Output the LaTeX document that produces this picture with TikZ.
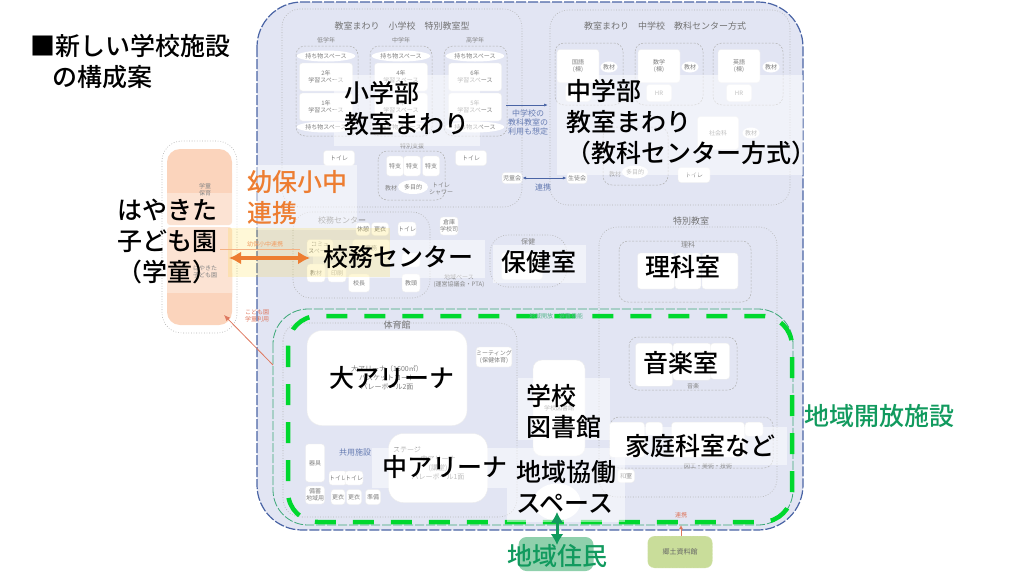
\documentclass[tikz,border=0pt]{standalone}
\usepackage{fontspec}
\setmainfont{Noto Sans CJK JP}
\newfontfamily\labelfont{Noto Sans CJK JP Medium}
\usetikzlibrary{arrows.meta,shapes.geometric}
\definecolor{schoolbg}{RGB}{226,229,243}
\definecolor{schoolln}{RGB}{74,100,165}
\definecolor{kidsbg}{RGB}{251,212,188}
\definecolor{orangetx}{RGB}{237,125,49}
\definecolor{greenln}{RGB}{0,216,46}
\definecolor{greentx}{RGB}{17,154,94}
\definecolor{juminbg}{RGB}{143,208,172}
\definecolor{kyodobg}{RGB}{201,221,154}
\definecolor{openln}{RGB}{60,168,119}
\definecolor{reddish}{RGB}{222,120,95}
\tikzset{
  room/.style={fill=white,draw=black!7,rounded corners=3pt,inner sep=0pt,font=\fontsize{6}{7}\selectfont,text=black!50,align=center},
  oval/.style={ellipse,fill=white,inner sep=0pt,font=\fontsize{6}{7}\selectfont,text=black!50,align=center},
  faint/.style={inner sep=0pt,font=\fontsize{6}{7}\selectfont,text=black!48,align=center},
  title/.style={inner sep=0pt,font=\fontsize{9}{11}\selectfont,text=black!55},
  bluetx/.style={inner sep=0pt,font=\fontsize{8}{9}\selectfont,text=schoolln!85,align=center},
  zone/.style={draw=black!30,dash pattern=on .8pt off 1.8pt,rounded corners=18pt,line width=.6pt},
  subzone/.style={draw=black!30,dash pattern=on 2pt off 1.5pt,rounded corners=9pt,line width=.5pt},
  panel/.style={fill=white,fill opacity=.5},
  biglabel/.style={inner sep=0pt,font=\labelfont\fontsize{25}{31}\selectfont,align=left},
}
\begin{document}
\begin{tikzpicture}[x=1pt,y=-1pt,line cap=butt]
  \useasboundingbox (0,0) rectangle (1020,571);

  % school ground
  \draw[fill=schoolbg,draw=schoolln,line width=1.2pt,dash pattern=on 10pt off 2pt,rounded corners=45pt] (257,2) rectangle (803,530);
  \foreach \xa/\ya/\xb/\yb in {282/9/522/207, 550/10/790/205, 293/212/430/298, 490/235/567/287, 599/227/777/497, 283/323/517/517}
    \draw[zone] (\xa,\ya) rectangle (\xb,\yb);
  \foreach \xa/\ya/\xb/\yb in {296/46/358/136, 370/46/432/136, 444/46/507/136, 378/151/445/200, 555/43/623/105, 635/43/703/105, 713/43/783/105, 603/127/668/185, 619/241/751/302, 629/337/737/390, 610/417/773/468}
    \draw[subzone] (\xa,\ya) rectangle (\xb,\yb);

  % elementary wing
  \node[title] (elemtitle) at (402,26) {教室まわり　小学校　特別教室型};
  \foreach \nm/\cx/\txt in {lowgr/326/低学年, midgr/401/中学年, highgr/475/高学年}
    \node[faint] (\nm) at (\cx,40) {\txt};
  \foreach \nm/\cx/\up/\dn in {lo/326/2年/1年, mi/401/4年/3年, hi/475/6年/5年} {
    \node[oval,minimum width=48,minimum height=11] (\nm mota) at (\cx,56) {持ち物スペース};
    \node[room,minimum width=53,minimum height=28] (\nm up) at (\cx,77) {\up\\学習スペース};
    \node[room,minimum width=53,minimum height=28] (\nm dn) at (\cx,107) {\dn\\学習スペース};
    \node[oval,minimum width=48,minimum height=11] (\nm motb) at (\cx,127) {持ち物スペース};
  }
  \foreach \nm/\cx/\cy/\w/\h/\txt in {
    wca/339/158/31/15/トイレ, wcb/471/158/31/15/トイレ,
    shia/395/166/17/20/特支, shib/412/166/17/20/特支, shic/431/166/17/20/特支,
    jidokai/512/178/20/11/児童会, seitokai/577/178/20/11/生徒会}
    \node[room,minimum width=\w,minimum height=\h] (\nm) at (\cx,\cy) {\txt};
  \node[faint] (shititle) at (412,146) {特別支援};
  \node[faint] (kyozaia) at (391,188) {教材};
  \node[oval,minimum width=30,minimum height=14] (tamokua) at (413,187) {多目的};
  \node[faint] (shower) at (441,189) {トイレ\\シャワー};

  % junior high wing
  \node[title] (jrtitle) at (665,26) {教室まわり　中学校　教科センター方式};
  \foreach \nm/\cx/\txt/\kx in {kok/578/国語/609, sug/659/数学/690, eig/739/英語/771} {
    \node[room,minimum width=42,minimum height=33] (\nm) at (\cx,66) {\txt\\(棟)};
    \node[room,minimum width=25,minimum height=17] (\nm hr) at (\cx,93) {HR};
    \node[oval,minimum width=17,minimum height=11] (\nm kz) at (\kx,67) {教材};
  }
  \node[room,minimum width=41,minimum height=33] (shakai) at (718,133) {社会科};
  \node[oval,minimum width=17,minimum height=11] (shakz) at (751,133) {教材};
  \node[faint] (kyozaib) at (615,174) {教材};
  \node[oval,minimum width=26,minimum height=13] (tamokub) at (635,172) {多目的};
  \node[room,minimum width=32,minimum height=15] (wcc) at (694,175) {トイレ};

  \coordinate (sharea) at (506,105);
  \coordinate (shareb) at (548,105);
  \draw[-{Latex[length=4pt,width=3pt]},schoolln,line width=.7pt] (sharea) -- (shareb);
  \node[bluetx] (sharetx) at (528,122) {中学校の\\教科教室の\\利用も想定};
  \draw[{Latex[length=4pt,width=3pt]}-{Latex[length=4pt,width=3pt]},schoolln,line width=.9pt] (jidokai) -- (seitokai);
  \node[bluetx] (renkeib) at (543,187) {連携};

  % kindergarten
  \draw[zone,rounded corners=20pt] (162,141) rectangle (237,333);
  \fill[kidsbg,rounded corners=13pt] (167,149) rectangle (232,200);
  \fill[kidsbg,rounded corners=3pt] (167,170) rectangle (232,225);
  \fill[kidsbg,rounded corners=3pt] (167,227) rectangle (232,300);
  \fill[kidsbg,rounded corners=13pt] (167,260) rectangle (232,325);
  \fill[white,fill opacity=.35] (167,193) rectangle (232,293);
  \node[faint] (gakudo) at (205,190) {学童\\保育};
  \node[faint] (kodomoen) at (205,272) {はやきた\\子ども園};

  % school office
  \node[title,font=\fontsize{8}{9}\selectfont] (komutitle) at (342,220) {校務センター};
  \foreach \nm/\cx/\cy/\w/\h/\txt in {
    kyuk/363/229/14/13/休憩, kois/380/229/17/13/更衣, wcd/407/229/15/14/トイレ,
    shoko/449/226/18/18/倉庫\\学校司, commu/320/248/26/17/コミュ\\スペース,
    jimu/371/248/37/17/事務, kyo/316/273/18/18/教材, ins/337/273/18/18/印刷,
    koch/359/283/21/18/校長, rma/411/260/18/14/{}, kyot/411/283/18/18/教頭}
    \node[room,minimum width=\w,minimum height=\h] (\nm) at (\cx,\cy) {\txt};
  \node[faint] (chiikib) at (459,281) {地域ベース\\(運営協議会・PTA)};

  % health, science
  \node[faint,font=\fontsize{7}{8}\selectfont] (hokentitle) at (528,242) {保健};
  \node[room,minimum width=41,minimum height=27] (hokenrm) at (522,266) {};
  \node[title] (tokutitle) at (691,221) {特別教室};
  \node[faint,font=\fontsize{7}{8}\selectfont] (rikatitle) at (688,245) {理科};
  \foreach \nm/\cx/\w in {rikaa/656/37, rikab/688/26, rikac/720/36}
    \node[room,minimum width=\w,minimum height=36] (\nm) at (\cx,271) {};

  % gymnasium
  \node[title] (gymtitle) at (397,325) {体育館};
  \node[room,rounded corners=15pt,minimum width=160,minimum height=95,font=\fontsize{7}{9}\selectfont] (bigarena) at (387,378) {大アリーナ（1600㎡）\\バスケットコート\\バレーボール2面};
  \node[room,rounded corners=15pt,minimum width=99,minimum height=69,font=\fontsize{7}{9}\selectfont] (midarena) at (438,468) {中アリーナ\\(講堂)\\バレーボール1面};
  \node[faint,font=\fontsize{7}{8}\selectfont] (stage) at (407,450) {ステージ};
  \node[room,minimum width=35,minimum height=20] (meeting) at (494,357) {ミーティング\\(保健体育)};
  \node[bluetx] (kyoyo) at (355,452) {共用施設};
  \foreach \nm/\cx/\cy/\w/\h/\txt in {
    kigu/315/463/19/38/器具, bichiku/315/495/19/18/備蓄\\地域用,
    wce/338/478/14/14/トイレ, wcf/354/478/15/14/トイレ,
    koia/338/497/14/15/更衣, koib/354/497/15/15/更衣, junbi/373/497/15/15/準備}
    \node[room,minimum width=\w,minimum height=\h] (\nm) at (\cx,\cy) {\txt};

  % music, home economics, library
  \foreach \nm/\cx/\w/\h in {onga/654/37/43, ongb/692/38/37, ongc/720/19/36}
    \node[room,minimum width=\w,minimum height=\h,anchor=north] (\nm) at (\cx,343) {};
  \node[faint] (ongtitle) at (693,386) {音楽};
  \node[room,rounded corners=9pt,minimum width=52,minimum height=96] (library) at (559,408) {学校図書館};
  \foreach \nm/\cx/\w/\h in {kagaa/627/35/35, kagab/654/17/13, kagac/708/73/35, kagad/754/18/14}
    \node[room,minimum width=\w,minimum height=\h,anchor=north] (\nm) at (\cx,422) {};
  \node[faint] (zukotitle) at (708,466) {図工・美術・技術};
  \node[room,minimum width=17,minimum height=13] (washitsu) at (626,476) {和室};
  \node[oval,minimum width=47,minimum height=37] (kyodosp) at (557,502) {};

  % open area
  \draw[openln,line width=.8pt,rounded corners=35pt,dash pattern=on 9pt off 2pt] (273,309) rectangle (793,525);
  \draw[greenln,line width=4.5pt,dash pattern=on 21pt off 17pt,rounded corners=30pt] (288,316) rectangle (792,522);
  \node[faint,text=greentx!70] (kaihotx) at (556,316) {地域開放　避難機能};

  % panels under the big words
  \foreach \xa/\ya/\xb/\yb in {334/75/480/146, 557/75/803/175, 232/165/357/230, 313/240/485/278, 493/245/586/283, 372/448/507/488, 518/378/610/440, 507/448/625/522, 615/427/787/465}
    \fill[panel] (\xa,\ya) rectangle (\xb,\yb);

  % links
  \fill[yellow!70!orange,fill opacity=.16] (228,228) rectangle (390,277);
  \coordinate (thinl) at (220,249);
  \coordinate (thinr) at (300,249);
  \draw[orangetx!60,line width=.7pt] (thinl) -- (thinr);
  \node[faint,text=orangetx!75] (linktx) at (265,244) {幼保小中連携};
  \coordinate (linkl) at (229,258);
  \coordinate (linkr) at (310,258);
  \draw[{Latex[length=12pt,width=13pt]}-{Latex[length=12pt,width=13pt]},orangetx,line width=3.6pt] (linkl) -- (linkr);
  \coordinate (gymside) at (273,365);
  \coordinate (kidsside) at (224,315);
  \draw[-{Latex[length=6pt,width=5pt]},reddish,line width=.8pt] (gymside) -- (kidsside);
  \node[faint,text=reddish] (kidstx) at (257,316) {こども園\\学童利用};

  \node[fill=juminbg,rounded corners=8pt,minimum width=75,minimum height=34] (jumin) at (556,554) {};
  \coordinate (kyodoend) at (557,512);
  \coordinate (juminend) at (557,545);
  \draw[{Latex[length=11pt,width=13pt]}-{Latex[length=11pt,width=13pt]},greentx,line width=3pt] (kyodoend) -- (juminend);
  \node[fill=kyodobg,draw=white,densely dotted,rounded corners=7pt,minimum width=65,minimum height=32,inner sep=0pt,font=\fontsize{7}{8}\selectfont,text=black!60] (kyodo) at (680,552) {郷土資料館};
  \coordinate (kyodotop) at (681,525);
  \draw[-{Latex[length=4pt,width=4pt]},reddish,line width=.8pt] (kyodo.north -| kyodotop) -- (kyodotop);
  \node[faint,text=reddish] (renkeic) at (681,515) {連携};

  % big words
  \node[biglabel,anchor=west] (heading) at (30,62) {■新しい学校施設\\\hspace{.9em}の構成案};
  \node[biglabel,anchor=west] (showord) at (344,108) {小学部\\教室まわり};
  \node[biglabel,anchor=west] (chuword) at (566,122) {中学部\\教室まわり\\（教科センター方式）};
  \node[biglabel,align=center] (hayaword) at (167,241) {はやきた\\子ども園\\（学童）};
  \node[biglabel,anchor=west,text=orangetx] (yohoword) at (247,198) {幼保小中\\連携};
  \node[biglabel] (komuword) at (398,257) {校務センター};
  \node[biglabel] (hokenword) at (539,262) {保健室};
  \node[biglabel] (rikaword) at (683,267) {理科室};
  \node[biglabel] (ongword) at (681,363) {音楽室};
  \node[biglabel] (daiword) at (392,378) {大アリーナ};
  \node[biglabel] (chword) at (445,467) {中アリーナ};
  \node[biglabel,anchor=west] (libword) at (526,411) {学校\\図書館};
  \node[biglabel,anchor=west] (kyoword) at (516,487) {地域協働\\スペース};
  \node[biglabel] (kateiword) at (700,446) {家庭科室など};
  \node[biglabel,text=greentx] (openword) at (879,416) {地域開放施設};
  \node[biglabel,text=greentx] (jumword) at (557,556) {地域住民};
\end{tikzpicture}
\end{document}
